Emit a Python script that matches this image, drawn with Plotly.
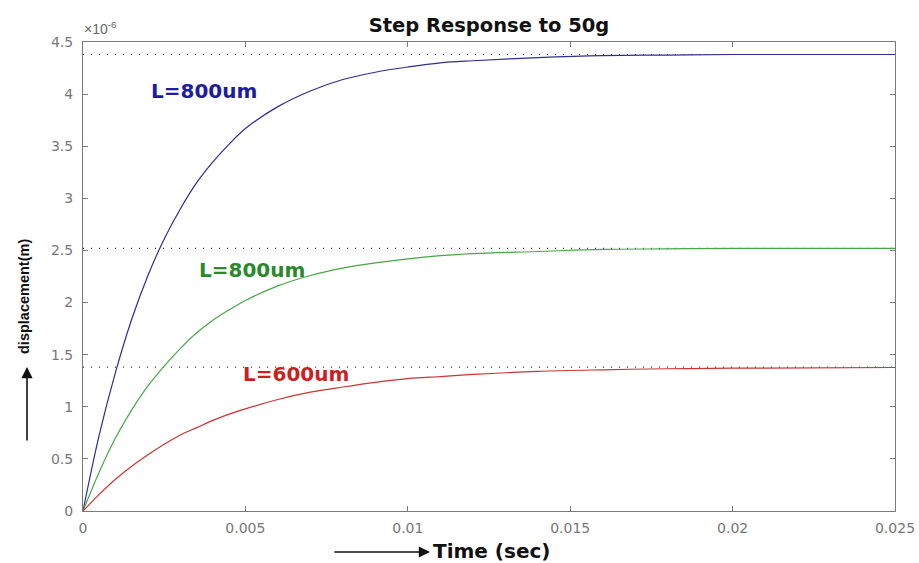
import plotly.graph_objects as go

# time (s)
t = [0, 0.0005, 0.001, 0.0015, 0.002, 0.0025, 0.003, 0.0035, 0.004, 0.0045,
     0.005, 0.006, 0.007, 0.008, 0.009, 0.010, 0.011, 0.012, 0.014, 0.016,
     0.018, 0.020, 0.025]
# displacement (x 1e-6 m)
blue_800 = [0, 0.73, 1.33, 1.84, 2.26, 2.61, 2.90, 3.15, 3.35, 3.52,
            3.67, 3.88, 4.03, 4.14, 4.21, 4.26, 4.30, 4.32, 4.35, 4.37,
            4.375, 4.38, 4.38]
green_800 = [0, 0.375, 0.70, 0.97, 1.20, 1.39, 1.56, 1.71, 1.83, 1.93,
             2.02, 2.16, 2.26, 2.33, 2.38, 2.42, 2.45, 2.47, 2.49, 2.51,
             2.515, 2.52, 2.52]
red_600 = [0, 0.16, 0.305, 0.43, 0.54, 0.64, 0.73, 0.80, 0.87, 0.93,
           0.98, 1.07, 1.14, 1.19, 1.235, 1.27, 1.29, 1.31, 1.34, 1.355,
           1.365, 1.37, 1.377]
final_values = [4.38, 2.52, 1.38]

x_ticks = [0, 0.005, 0.01, 0.015, 0.02, 0.025]
x_tick_labels = ["0", "0.005", "0.01", "0.015", "0.02", "0.025"]
y_ticks = [0, 0.5, 1, 1.5, 2, 2.5, 3, 3.5, 4, 4.5]
y_tick_labels = ["0", "0.5", "1", "1.5", "2", "2.5", "3", "3.5", "4", "4.5"]

labels = [("L=800um", 0.00374, 4.03, "#1c1ca0"),
          ("L=800um", 0.00519, 2.31, "#2a8a2a"),
          ("L=600um", 0.00655, 1.31, "#cc1f1f")]

W, H = 919, 563
ML, MR, MT, MB = 83, 24, 42, 52

fig = go.Figure()

for v in final_values:
    fig.add_trace(go.Scatter(x=[t[0], t[-1]], y=[v, v], mode="lines",
                             line=dict(color="#333333", width=1.2, dash="1px,7px"),
                             showlegend=False, hoverinfo="skip"))

fig.add_trace(go.Scatter(x=t, y=blue_800, mode="lines", line=dict(color="#2e2e96", width=1.2),
                         line_shape="spline", showlegend=False))
fig.add_trace(go.Scatter(x=t, y=green_800, mode="lines", line=dict(color="#45a845", width=1.2),
                         line_shape="spline", showlegend=False))
fig.add_trace(go.Scatter(x=t, y=red_600, mode="lines", line=dict(color="#cc3333", width=1.2),
                         line_shape="spline", showlegend=False))


def px(xp, yp):
    return (xp - ML) / (W - ML - MR), (H - yp - MB) / (H - MT - MB)


annotations = []
for txt, x, y, c in labels:
    annotations.append(dict(text="<b>" + txt + "</b>", x=x, y=y, xref="x", yref="y",
                            showarrow=False,
                            font=dict(family="DejaVu Sans", size=20, color=c),
                            xanchor="center", yanchor="middle"))

# x10^-6 multiplier
mx, my = px(82, 28)
annotations.append(dict(text="×10<sup>-6</sup>", x=mx, y=my, xref="paper", yref="paper",
                        showarrow=False, font=dict(family="Liberation Sans", size=14, color="#666666"),
                        xanchor="left", yanchor="middle"))

# y axis title and arrow
yx, yy = px(24, 297)
annotations.append(dict(text="<b>displacement(m)</b>", x=yx, y=yy, xref="paper", yref="paper",
                        showarrow=False, textangle=-90,
                        font=dict(family="Liberation Sans", size=14.5, color="#111111"),
                        xanchor="center", yanchor="middle"))
hx, hy = px(27, 367)
annotations.append(dict(text="", x=hx, y=hy, xref="paper", yref="paper", showarrow=True,
                        ax=0, ay=75, axref="pixel", ayref="pixel", arrowhead=2, arrowsize=1.4,
                        arrowwidth=1.6, arrowcolor="#111111"))
# x axis title and arrow
tx, ty = px(431, 551)
annotations.append(dict(text="<b>Time (sec)</b>", x=tx, y=ty, xref="paper", yref="paper",
                        showarrow=False, font=dict(family="DejaVu Sans", size=20, color="#111111"),
                        xanchor="left", yanchor="middle"))
hx2, hy2 = px(430, 552)
annotations.append(dict(text="", x=hx2, y=hy2, xref="paper", yref="paper", showarrow=True,
                        ax=-97, ay=0, axref="pixel", ayref="pixel", arrowhead=2, arrowsize=1.4,
                        arrowwidth=1.6, arrowcolor="#111111"))

fig.update_layout(
    width=W, height=H,
    margin=dict(l=ML, r=MR, t=MT, b=MB, autoexpand=False),
    paper_bgcolor="white", plot_bgcolor="white",
    title=dict(text="<b>Step Response to 50g</b>", x=489 / W, xanchor="center",
               y=1 - 25 / H, yanchor="middle",
               font=dict(family="DejaVu Sans", size=19.5, color="#111111")),
    showlegend=False,
    annotations=annotations,
)

axis_common = dict(showgrid=False, zeroline=False, showline=True, mirror="ticks",
                   linecolor="#7a7a7a", linewidth=1, ticks="inside", ticklen=5,
                   tickcolor="#7a7a7a", automargin=False,
                   tickfont=dict(family="DejaVu Sans", size=14, color="#777777"))
fig.update_xaxes(range=[0, 0.025], tickvals=x_ticks, ticktext=x_tick_labels,
                 ticklabelstandoff=4, **axis_common)
fig.update_yaxes(range=[0, 4.5], tickvals=y_ticks, ticktext=y_tick_labels,
                 ticklabelstandoff=6, **axis_common)

fig.write_html("out.html")
